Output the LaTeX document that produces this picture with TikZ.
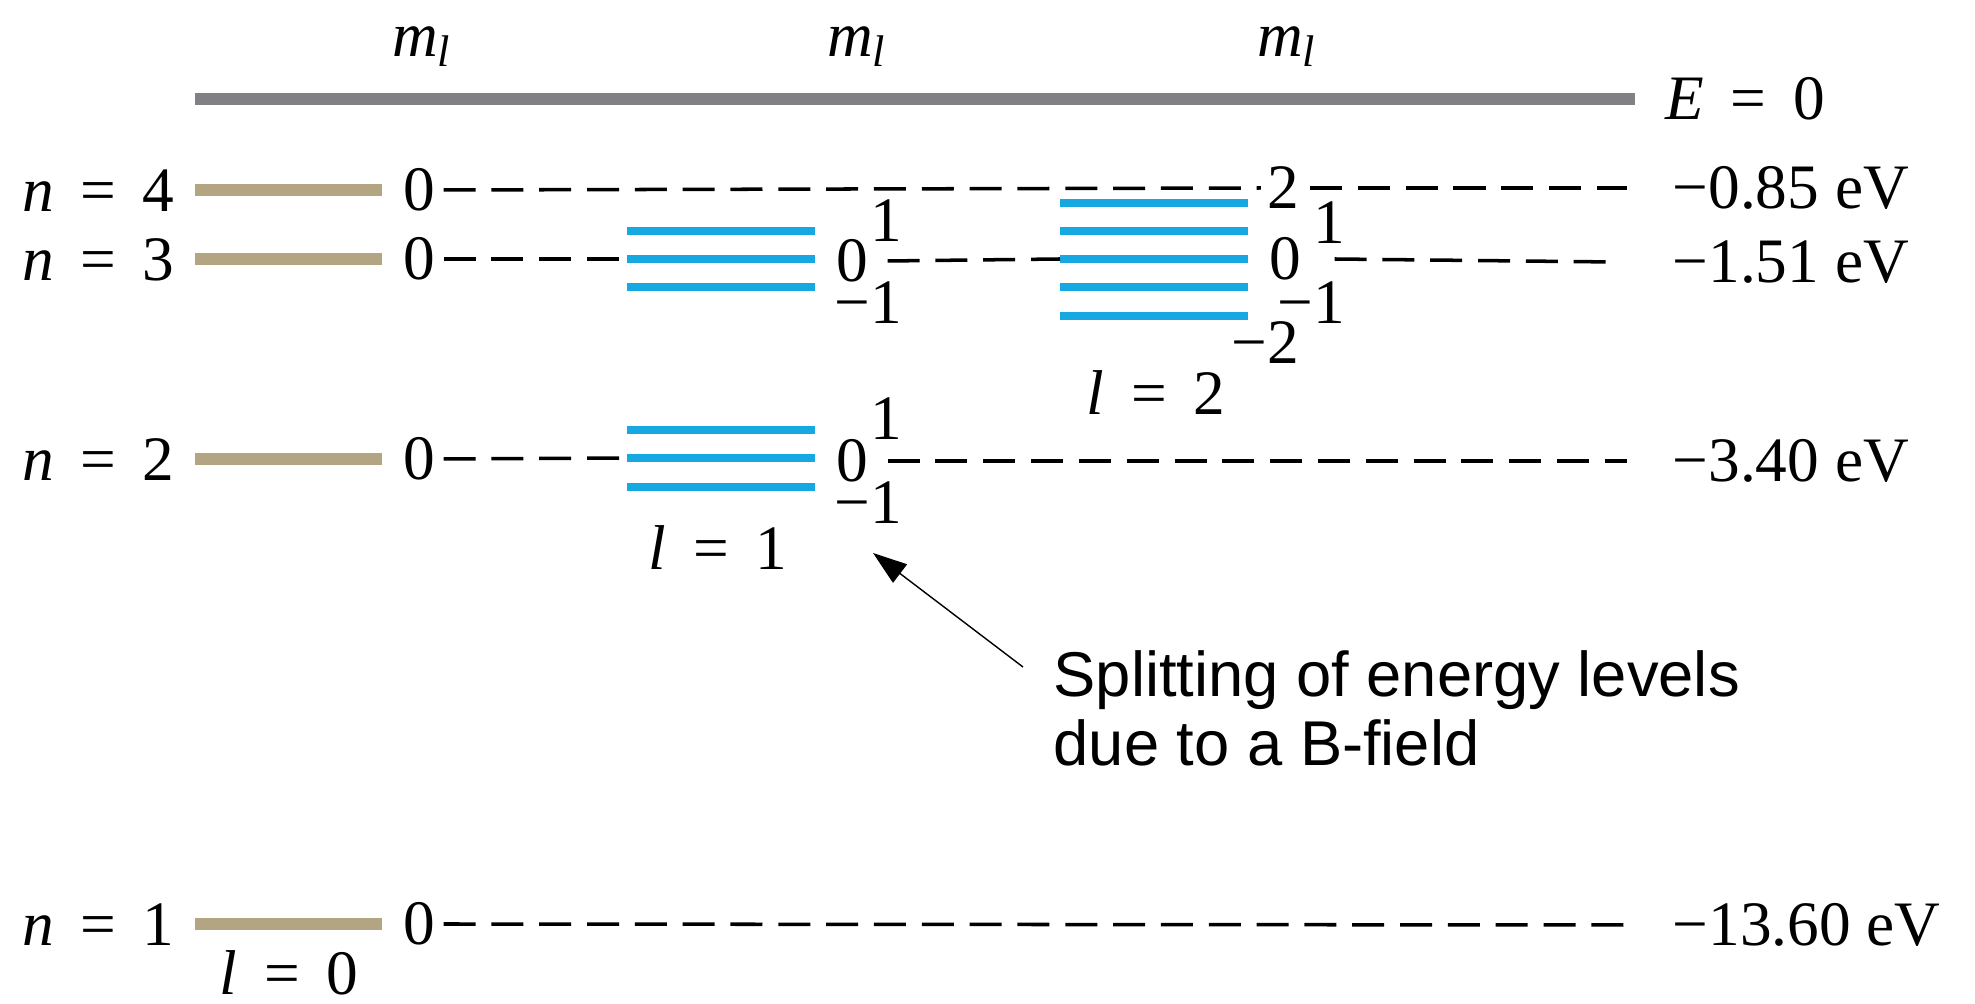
\documentclass[tikz,border=0pt]{standalone}
\usepackage{fontspec}
\setmainfont{Liberation Serif}
\newfontfamily\notefont{Liberation Sans}
\usetikzlibrary{arrows.meta}

\definecolor{zerogray}{RGB}{128,128,133}
\definecolor{tanlevel}{RGB}{179,165,129}
\definecolor{splitblue}{RGB}{22,168,224}

\newcommand{\qnum}[2]{\textit{#1}\hspace{.42em}=\hspace{.42em}#2}
\newcommand{\mlabel}{\textit{m}\textsubscript{\textit{l}}}

\begin{document}
\begin{tikzpicture}[
  x=0.01cm, y=-0.01cm,
  txt/.style={
    font=\fontsize{18}{21}\selectfont, inner sep=0pt
  },
  note/.style={
    font=\notefont\fontsize{18}{19.5}\selectfont,
    align=left, inner sep=0pt
  },
  zeroline/.style={
    line width=3.4pt, color=zerogray
  },
  unsplit/.style={
    line width=3.4pt, color=tanlevel
  },
  splitlvl/.style={
    line width=2.3pt, color=splitblue
  },
  guide/.style={
    line width=1pt, dash pattern=on 9.1pt off 4.5pt
  },
  pointer/.style={
    -{Triangle[length=3.4mm, width=2.3mm]}, line width=0.4pt
  }
]
\useasboundingbox (0,0) rectangle (1975,1004);

% ================= Top: m_l headers and E = 0 =================
\node[txt, anchor=base] (ml0) at (422,57) {\mlabel};
\node[txt, anchor=base] (ml1) at (857,57) {\mlabel};
\node[txt, anchor=base] (ml2) at (1287,57) {\mlabel};

\coordinate (zstart) at (195,99);
\node[txt, anchor=west] (Ezero) at (1665,99) {\qnum{E}{0}};

% ================= Left: n labels and l = 0 levels =================
\node[txt, anchor=east] (n4) at (175,191) {\qnum{n}{4}};
\node[txt, anchor=east] (n3) at (175,260) {\qnum{n}{3}};
\node[txt, anchor=east] (n2) at (175,460) {\qnum{n}{2}};
\node[txt, anchor=east] (n1) at (175,925) {\qnum{n}{1}};

\node[txt] (z4) at (419,190) {0};
\node[txt] (z3) at (419,259) {0};
\node[txt] (z2) at (419,459) {0};
\node[txt] (z1) at (419,924) {0};

\node[txt] (lzero) at (289,973) {\qnum{l}{0}};

% ================= Right: energies =================
\node[txt, anchor=west] (e4) at (1672,188) {−0.85 eV};
\node[txt, anchor=west] (e3) at (1672,262) {−1.51 eV};
\node[txt, anchor=west] (e2) at (1672,461) {−3.40 eV};
\node[txt, anchor=west] (e1) at (1672,925) {−13.60 eV};

% ================= l = 1 splitting (n = 3 and n = 2) =================
\coordinate (pa) at (627,259);
\draw[splitlvl] (627,231) -- (815,231);
\draw[splitlvl] (pa) -- (815,259);
\draw[splitlvl] (627,287) -- (815,287);
\node[txt, anchor=east] (pa1) at (903,221) {1};
\node[txt] (pa0) at (852,261) {0};
\node[txt, anchor=east] (pam1) at (903,303) {−1};

\coordinate (pb) at (627,458);
\draw[splitlvl] (627,430) -- (815,430);
\draw[splitlvl] (pb) -- (815,458);
\draw[splitlvl] (627,487) -- (815,487);
\node[txt, anchor=east] (pb1) at (903,419) {1};
\node[txt] (pb0) at (852,461) {0};
\node[txt, anchor=east] (pbm1) at (903,503) {−1};

\node[txt] (lone) at (718,548) {\qnum{l}{1}};

% ================= l = 2 splitting (n = 3) =================
\coordinate (dd) at (1060,259);
\draw[splitlvl] (1060,203) -- (1248,203);
\draw[splitlvl] (1060,231) -- (1248,231);
\draw[splitlvl] (dd) -- (1248,259);
\draw[splitlvl] (1060,287) -- (1248,287);
\draw[splitlvl] (1060,316) -- (1248,316);
\node[txt, anchor=east] (dd2) at (1300,188) {2};
\node[txt, anchor=east] (dd1) at (1346,223) {1};
\node[txt] (dd0) at (1285,259) {0};
\node[txt, anchor=east] (ddm1) at (1346,303) {−1};
\node[txt, anchor=east] (ddm2) at (1300,343) {−2};

\node[txt] (ltwo) at (1156,393) {\qnum{l}{2}};

% ================= Note =================
\node[note, anchor=north west] (splitnote) at (1053,650) {Splitting of energy levels\\due to a B-field};
\coordinate (tip) at (873,553);

% ================= Connections: solid levels =================
\draw[zeroline] (zstart) -- ([xshift=-0.3cm]Ezero.west);
\draw[unsplit] ([xshift=0.2cm]z4.west -| n4.east) -- ([xshift=-0.2cm]z4.west);
\draw[unsplit] ([xshift=0.2cm]z3.west -| n3.east) -- ([xshift=-0.2cm]z3.west);
\draw[unsplit] ([xshift=0.2cm]z2.west -| n2.east) -- ([xshift=-0.2cm]z2.west);
\draw[unsplit] ([xshift=0.2cm]z1.west -| n1.east) -- ([xshift=-0.2cm]z1.west);

% ================= Connections: dashed guides =================
\draw[guide] ([xshift=0.08cm]z4.east) -- ([xshift=-0.06cm]dd2.west);
\draw[guide] ([xshift=0.1cm]dd2.east) -- ([xshift=-0.45cm]e4.west);

\draw[guide] ([xshift=0.08cm]z3.east) -- (pa);
\draw[guide] ([xshift=0.19cm]pa0.east) -- (dd);
\draw[guide] ([xshift=0.33cm]dd0.east) -- ([xshift=-0.58cm]e3.west);

\draw[guide] ([xshift=0.08cm]z2.east) -- (pb);
\draw[guide] ([xshift=0.19cm]pb0.east) -- ([xshift=-0.45cm]e2.west);

\draw[guide] ([xshift=0.08cm]z1.east) -- ([xshift=-0.45cm]e1.west);

% ================= Connections: note arrow =================
\draw[pointer] ([xshift=-0.3cm, yshift=-0.17cm]splitnote.north west) -- (tip);

\end{tikzpicture}
\end{document}
